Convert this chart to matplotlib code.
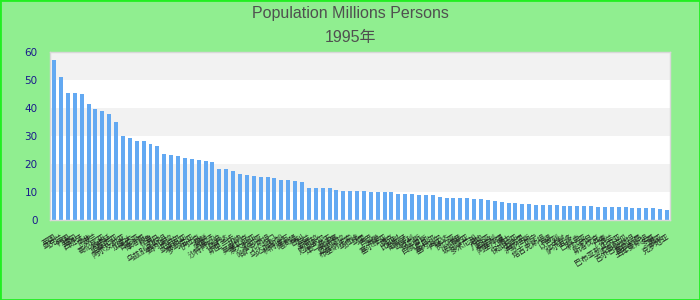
import matplotlib
matplotlib.use("Agg")
import matplotlib.pyplot as plt
from matplotlib.patches import Rectangle

# 1995 population (millions), sorted descending
countries = [
    "英国", "乌克兰", "韩国", "缅甸", "西班牙", "南非", "波兰", "哥伦比亚", "阿根廷", "坦桑尼亚",
    "阿尔及利亚", "加拿大", "肯尼亚", "摩洛哥", "秘鲁", "苏丹", "乌兹别克斯坦", "委内瑞拉", "尼泊尔", "马来西亚",
    "罗马尼亚", "伊拉克", "朝鲜", "阿富汗", "沙特阿拉伯", "乌干达", "斯里兰卡", "加纳", "莫桑比克", "澳大利亚",
    "叙利亚", "哈萨克斯坦", "也门", "马达加斯加", "科特迪瓦", "喀麦隆", "智利", "荷兰", "安哥拉", "厄瓜多尔",
    "津巴布韦", "柬埔寨", "危地马拉", "布基纳法索", "马拉维", "马里", "古巴", "希腊", "塞尔维亚", "捷克",
    "比利时", "葡萄牙", "匈牙利", "突尼斯", "白俄罗斯", "尼日尔", "塞内加尔", "卢旺达", "赞比亚", "瑞典",
    "玻利维亚", "多米尼加", "海地", "几内亚", "奥地利", "阿塞拜疆", "瑞士", "保加利亚", "索马里", "洪都拉斯",
    "贝宁", "塔吉克斯坦", "乍得", "以色列", "老挝", "萨尔瓦多", "巴拉圭", "利比亚", "约旦", "斯洛伐克",
    "丹麦", "芬兰", "巴布亚新几内亚", "尼加拉瓜", "吉尔吉斯斯坦", "塞拉利昂", "土库曼斯坦", "多哥", "挪威", "克罗地亚",
]
population = [
    57.0, 51.0, 45.3, 45.3, 44.9, 41.3, 39.6, 38.8, 37.8, 34.9,
    29.9, 29.2, 28.2, 28.2, 27.1, 26.4, 23.5, 23.2, 22.8, 22.1,
    21.7, 21.4, 21.0, 20.7, 18.2, 18.2, 17.5, 16.4, 16.1, 15.7,
    15.4, 15.4, 15.0, 14.3, 14.3, 13.9, 13.6, 11.4, 11.4, 11.4,
    11.4, 10.7, 10.4, 10.4, 10.4, 10.4, 10.0, 10.0, 10.0, 10.0,
    9.3, 9.3, 9.3, 8.9, 8.9, 8.9, 8.2, 7.9, 7.9, 7.9,
    7.9, 7.5, 7.5, 7.1, 6.8, 6.4, 6.1, 6.1, 5.7, 5.7,
    5.4, 5.4, 5.4, 5.4, 5.0, 5.0, 5.0, 5.0, 5.0, 4.6,
    4.6, 4.6, 4.6, 4.6, 4.3, 4.3, 4.3, 4.3, 3.9, 3.6,
]
yticks = [0, 10, 20, 30, 40, 50, 60]

bg = "#90ee90"
fig = plt.figure(figsize=(7, 3), dpi=100, facecolor=bg)
fig.patches.append(Rectangle((0, 0), 1, 1, transform=fig.transFigure,
                             fill=False, edgecolor="#22ee22", linewidth=2))
ax = fig.add_axes([0.0714, 0.2667, 0.8857, 0.561])
ax.set_facecolor("white")

# alternating horizontal bands
for lo in yticks[1::2]:
    ax.axhspan(lo, lo + 10, color="#f2f2f2", zorder=0, linewidth=0)

x = range(len(population))
ax.bar(x, population, width=0.58, color="#63a9f2", zorder=2)

ax.set_xlim(-0.6, len(population) - 0.55)
ax.set_ylim(0, 60)
ax.set_yticks(yticks)
ax.tick_params(axis="y", length=0, pad=9, labelsize=7.5, labelcolor="#1a1a8c")
ax.set_xticks(list(x))
ax.set_xticklabels(countries, rotation=32, ha="right", rotation_mode="anchor",
                   fontsize=5.5, family=["Noto Sans CJK SC", "DejaVu Sans"])
ax.tick_params(axis="x", length=0, pad=9, labelcolor="#222222")
for s in ax.spines.values():
    s.set_color("#d8d8d8")
    s.set_linewidth(1)

title_font = ["Liberation Sans", "Noto Sans CJK SC"]
fig.text(0.5, 0.955, "Population Millions Persons", ha="center", va="center",
         fontsize=11.5, color="#505050", family=title_font)
fig.text(0.5, 0.875, "1995年", ha="center", va="center",
         fontsize=11.5, color="#505050", family=title_font)

fig.savefig("out.png", dpi=100, facecolor=bg)
